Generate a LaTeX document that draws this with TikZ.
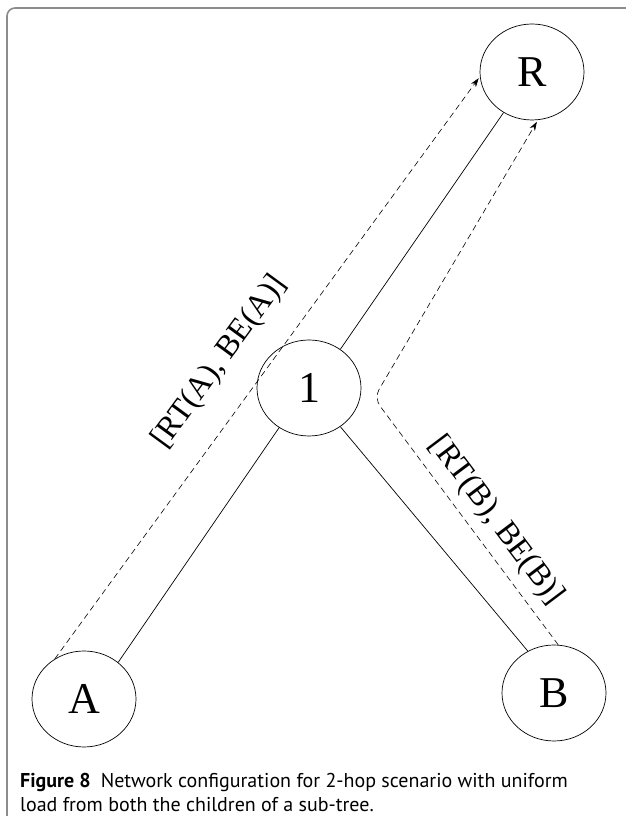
\documentclass[tikz,border=0pt]{standalone}
\usepackage{fontspec}
\setmainfont{Liberation Serif}
\newfontfamily\capfont{PT Sans}
\usetikzlibrary{arrows.meta,shapes.geometric}

\begin{document}
\begin{tikzpicture}[x=1pt, y=1pt,
  hop/.style={draw, ellipse, line width=0.7pt, minimum width=104pt, minimum height=96pt, inner sep=0pt, font=\fontsize{44}{44}\selectfont},
  link/.style={line width=0.7pt},
  flow/.style={dashed, dash pattern=on 6pt off 4pt, line width=0.6pt, -{Stealth[length=9pt,width=6pt]}, shorten >=2pt},
  flowlbl/.style={font=\fontsize{32}{32}\selectfont, inner sep=0pt}]
\useasboundingbox (0,0) rectangle (626,816);
\clip (0,0) rectangle (626,816);
% frame
\draw[black!45, line width=1.6pt, rounded corners=8pt] (7,-20) |- (680,808);
% nodes
\node[hop] (R) at (532,744) {R};
\node[hop] (one) at (309,428) {1};
\node[hop] (A) at (84,117) {A};
\node[hop] (B) at (554,123) {B};
\coordinate (bend) at (374,418);
% tree links
\draw[link] (A.47) -- (one.233);
\draw[link] (one.51) -- (R.235);
\draw[link] (one.-51) -- (B.122);
% reports towards the root
\draw[flow] (A.126) -- (R.185);
\draw[flow, rounded corners=10pt] (B.85) -- (bend) -- (R.277);
\node[flowlbl, rotate=53.8] (lblA) at (220,454) {[RT(A), BE(A)]};
\node[flowlbl, rotate=-53] (lblB) at (496,295) {[RT(B), BE(B)]};
% caption
\node[anchor=north west, align=left, inner sep=0pt, font=\capfont\fontsize{20}{24}\selectfont] (cap) at (20,43) {\textbf{Figure 8}\hspace{0.5em}Network configuration for 2-hop scenario with uniform\\load from both the children of a sub-tree.};
\end{tikzpicture}
\end{document}
